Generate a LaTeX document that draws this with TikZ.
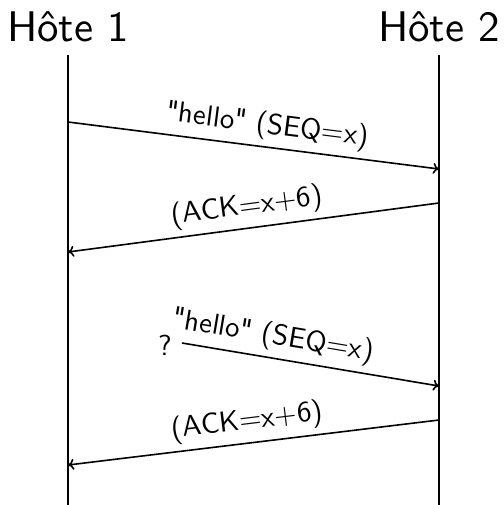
\documentclass[tikz,border=0pt]{standalone}
\usepackage{fontspec}
\newfontfamily\lmsten{lmsans10-regular}[Extension=.otf,Ligatures=TeXOff]
\usetikzlibrary{arrows.meta}
\begin{document}
\begin{tikzpicture}[x=1bp,y=-1bp,
  lifeline/.style={line width=1.6bp},
  msg/.style={line width=1.6bp,-{To[length=6bp,width=11bp,line width=1.6bp]}},
  hosttitle/.style={font=\lmsten\fontsize{43}{43}\selectfont,inner sep=0},
  msglabel/.style={font=\lmsten\fontsize{29}{29}\selectfont,sloped,above,inner sep=6bp}]
\useasboundingbox (0,0) rectangle (504,505);
\node[hosttitle,anchor=base] (h1) at (68,42) {Hôte 1};
\node[hosttitle,anchor=base] (h2) at (439,42) {Hôte 2};
\coordinate (l1t) at (68,55); \coordinate (l1b) at (68,505);
\coordinate (l2t) at (439,55); \coordinate (l2b) at (439,505);
\draw[lifeline] (l1t) -- (l1b);
\draw[lifeline] (l2t) -- (l2b);
\coordinate (a1s) at (68,122); \coordinate (a1e) at (439,169);
\coordinate (a2s) at (439,203); \coordinate (a2e) at (68,252);
\coordinate (a3s) at (182,343); \coordinate (a3e) at (439,386);
\coordinate (a4s) at (439,420); \coordinate (a4e) at (68,465);
\draw[msg] (a1s) -- node[msglabel,pos=0.53] (t1) {"hello" (SEQ=x)} (a1e);
\draw[msg] (a2s) -- node[msglabel,pos=0.51] (t2) {(ACK=x+6)} (a2e);
\draw[msg] (a3s) -- node[msglabel,pos=0.34] (t3) {"hello" (SEQ=x)} (a3e);
\draw[msg] (a4s) -- node[msglabel,pos=0.51] (t4) {(ACK=x+6)} (a4e);
\node[font=\lmsten\fontsize{29}{29}\selectfont,anchor=east,inner sep=0] (q) at (172,345) {?};
\end{tikzpicture}
\end{document}
